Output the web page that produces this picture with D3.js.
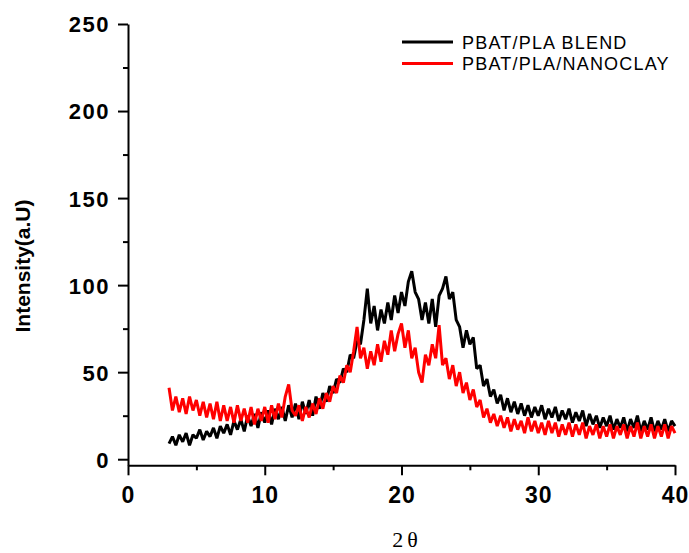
<!DOCTYPE html>
<html>
<head>
<meta charset="utf-8">
<script src="https://cdn.jsdelivr.net/npm/d3@7"></script>
<style>
  body { margin: 0; background: #fff; }
  svg { display: block; }
  .tick text { font-family: "Liberation Sans", Arial, sans-serif; font-weight: bold; }
</style>
</head>
<body>
<div id="chart"></div>
<script>
'use strict';

// XRD scan, 2θ from 3° to 40° in 0.25° steps
const scanStart = 3;
const scanStep = 0.25;

const blendValues = [
  9, 13, 8, 14, 10, 15, 8, 14, 12, 17, 11, 16, 13, 18, 12, 19,
  15, 20, 14, 22, 17, 23, 16, 25, 19, 26, 18, 27, 21, 28, 20, 29,
  23, 30, 22, 31, 24, 32, 23, 33, 26, 34, 25, 36, 29, 38, 33, 42,
  38, 46, 44, 52, 50, 60, 58, 68, 66, 80, 98, 78, 88, 74, 86, 78,
  90, 80, 94, 84, 96, 88, 102, 108, 96, 92, 80, 90, 78, 92, 76, 94,
  98, 105, 92, 96, 80, 76, 64, 74, 66, 70, 52, 54, 42, 46, 36, 40,
  32, 37, 28, 35, 27, 33, 26, 32, 25, 31, 24, 30, 25, 31, 23, 29,
  24, 30, 22, 28, 23, 29, 21, 27, 22, 28, 19, 26, 20, 25, 18, 24,
  19, 25, 17, 23, 18, 24, 16, 23, 18, 25, 16, 22, 17, 24, 16, 22,
  17, 23, 16, 22, 19
];

const nanoclayValues = [
  41, 28, 36, 27, 35, 26, 36, 28, 34, 25, 33, 24, 32, 23, 33, 22,
  31, 22, 30, 21, 31, 22, 29, 21, 30, 20, 29, 22, 30, 21, 31, 23,
  32, 24, 36, 43, 28, 25, 31, 22, 30, 24, 32, 26, 35, 29, 38, 33,
  42, 38, 48, 44, 54, 50, 62, 76, 58, 64, 52, 62, 54, 66, 56, 68,
  60, 74, 62, 72, 78, 64, 74, 58, 64, 50, 44, 60, 54, 66, 58, 77,
  54, 58, 46, 54, 42, 50, 38, 44, 34, 40, 30, 34, 24, 29, 21, 26,
  19, 25, 18, 24, 16, 23, 17, 22, 15, 24, 16, 22, 15, 21, 14, 22,
  15, 21, 13, 20, 14, 21, 13, 20, 14, 21, 12, 19, 14, 20, 12, 19,
  13, 20, 12, 19, 14, 20, 12, 19, 13, 21, 12, 19, 13, 20, 12, 19,
  13, 20, 12, 19, 15
];

const seriesNames = ['PBAT/PLA BLEND', 'PBAT/PLA/NANOCLAY'];
const seriesColors = ['#000000', '#ff0000'];

const xMajorTicks = [0, 10, 20, 30, 40];
const xMinorTicks = [5, 15, 25, 35];
const yMajorTicks = [0, 50, 100, 150, 200, 250];
const yMinorTicks = [25, 75, 125, 175, 225];

const width = 689;
const height = 553;

const $svg = d3.select('#chart').append('svg')
  .attr('width', width)
  .attr('height', height);

const x = d3.scaleLinear().domain([0, 40]).range([128, 675]);
const y = d3.scaleLinear().domain([-3.5, 250]).range([465.3, 24]);

const toPoints = (values) => values.map((v, i) => [scanStart + i * scanStep, v]);

const line = d3.line()
  .x((d) => x(d[0]))
  .y((d) => y(d[1]));

// curves (red drawn on top)
[blendValues, nanoclayValues].forEach((values, i) => {
  $svg.append('path')
    .datum(toPoints(values))
    .attr('fill', 'none')
    .attr('stroke', seriesColors[i])
    .attr('stroke-width', 3)
    .attr('stroke-linejoin', 'bevel')
    .attr('d', line);
});

// axes
const $xAxis = $svg.append('g')
  .attr('transform', 'translate(0,' + y(-3.5) + ')')
  .call(d3.axisBottom(x).tickValues(xMajorTicks).tickSize(10).tickSizeOuter(0).tickPadding(11));
$xAxis.selectAll('text').attr('font-size', 23).attr('letter-spacing', 1);

$svg.append('g')
  .attr('transform', 'translate(0,' + y(-3.5) + ')')
  .call(d3.axisBottom(x).tickValues(xMinorTicks).tickSize(5).tickFormat(''))
  .select('.domain').remove();

const $yAxis = $svg.append('g')
  .attr('transform', 'translate(' + x(0) + ',0)')
  .call(d3.axisLeft(y).tickValues(yMajorTicks).tickSize(10).tickSizeOuter(0).tickPadding(8));
$yAxis.selectAll('text').attr('font-size', 22).attr('letter-spacing', 1.5).attr('dy', '0.36em');

$svg.append('g')
  .attr('transform', 'translate(' + x(0) + ',0)')
  .call(d3.axisLeft(y).tickValues(yMinorTicks).tickSize(5).tickFormat(''))
  .select('.domain').remove();

$svg.selectAll('.domain, .tick line')
  .attr('stroke', '#000')
  .attr('stroke-width', 2);

// axis titles
$svg.append('text')
  .attr('x', 407)
  .attr('y', 547)
  .attr('text-anchor', 'middle')
  .attr('font-family', '"Liberation Serif", "Times New Roman", serif')
  .attr('font-size', 22)
  .attr('letter-spacing', 4)
  .text('2θ');

$svg.append('text')
  .attr('transform', 'translate(30,266) rotate(-90)')
  .attr('text-anchor', 'middle')
  .attr('font-family', '"Liberation Sans", Arial, sans-serif')
  .attr('font-weight', 'bold')
  .attr('font-size', 21)
  .text('Intensity(a.U)');

// legend
const $legend = $svg.append('g').attr('class', 'legend');
seriesNames.forEach((name, i) => {
  const ly = 42 + i * 21.5;
  $legend.append('line')
    .attr('x1', 402).attr('x2', 453)
    .attr('y1', ly).attr('y2', ly)
    .attr('stroke', seriesColors[i])
    .attr('stroke-width', 3);
  $legend.append('text')
    .attr('x', 462)
    .attr('y', ly + 6.5)
    .attr('font-family', '"Liberation Sans", Arial, sans-serif')
    .attr('font-size', 18)
    .attr('letter-spacing', 1.2)
    .text(name);
});
</script>
</body>
</html>
